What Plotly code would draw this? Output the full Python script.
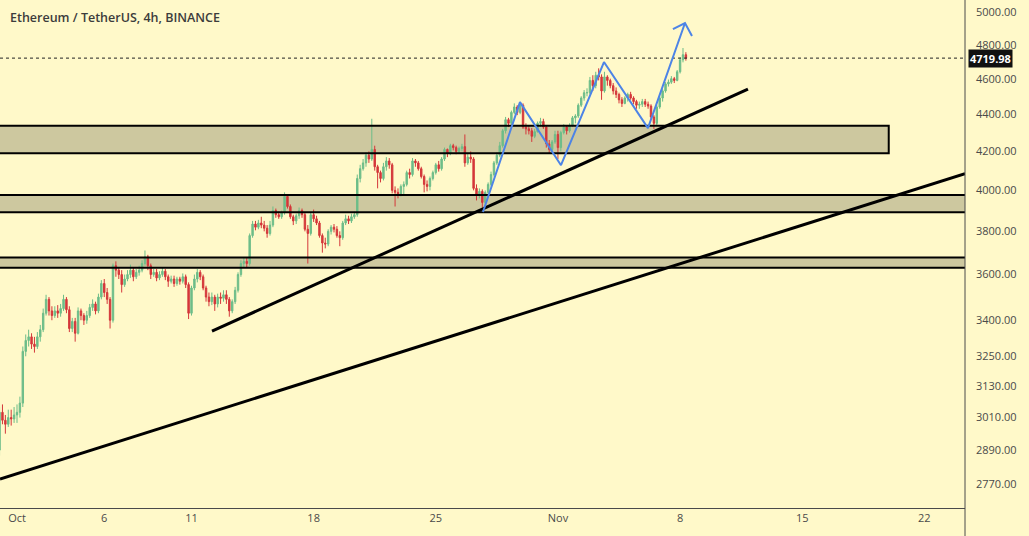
import math
import pandas as pd
import plotly.graph_objects as go

# ---------------- data (ETH/USDT, 4h candles) ----------------
first_open = 2890
closes = [
    3030, 3000, 2985, 3010, 3005, 3020,   # Sep 30
    3030, 3065, 3270, 3315, 3330, 3300,   # Oct 1
    3290, 3330, 3360, 3430, 3490, 3440,
    3420, 3440, 3430, 3450, 3490, 3445,
    3365, 3395, 3345, 3440, 3420, 3400,
    3420, 3455, 3470, 3440, 3500, 3560,
    3520, 3490, 3400, 3640, 3620, 3600,
    3555, 3580, 3600, 3620, 3590, 3610,
    3620, 3650, 3680, 3640, 3600, 3610,
    3585, 3600, 3615, 3590, 3570, 3580,
    3560, 3580, 3570, 3590, 3555, 3430,   # Oct 10
    3540, 3580, 3610, 3590, 3540, 3500,
    3480, 3500, 3470, 3500, 3495, 3510,
    3490, 3440, 3480, 3530, 3600, 3650,
    3660, 3650, 3780, 3835, 3820, 3840,
    3830, 3815, 3790, 3830, 3900, 3880,
    3870, 3890, 3970, 3920, 3870, 3850,
    3875, 3900, 3880, 3810, 3790, 3880,
    3860, 3840, 3780, 3745, 3740, 3800,
    3820, 3810, 3780, 3770, 3840, 3860,
    3850, 3870, 3880, 4060, 4110, 4140,   # Oct 20
    4180, 4160, 4210, 4120, 4090, 4060,
    4120, 4150, 4130, 4000, 3990, 3980,
    4020, 4030, 4090, 4080, 4150, 4140,
    4110, 4070, 4030, 4020, 4060, 4090,
    4130, 4110, 4160, 4210, 4190, 4230,
    4220, 4200, 4215, 4225, 4140, 4170,
    4160, 4010, 3980, 3995, 3940, 3990,
    4030, 4080, 4140, 4180, 4230, 4310,
    4370, 4350, 4410, 4440, 4410, 4450,
    4330, 4320, 4310, 4280, 4305, 4350,   # Oct 30
    4360, 4330, 4240, 4210, 4250, 4290,
    4220, 4300, 4330, 4310, 4340, 4380,   # Nov 1
    4390, 4450, 4490, 4520, 4520, 4590,
    4560, 4620, 4610, 4530, 4610, 4590,
    4560, 4530, 4510, 4480, 4460, 4490,
    4510, 4490, 4470, 4450, 4455, 4470,
    4455, 4445, 4385, 4350, 4440, 4490,
    4530, 4570, 4580, 4600, 4590, 4640,
    4710, 4740, 4719.98,                  # Nov 8
]
highs = [
    3050, 3060, 3020, 3040, 3040, 3050,
    3060, 3090, 3290, 3340, 3360, 3345,
    3330, 3350, 3380, 3450, 3510, 3500,
    3460, 3460, 3465, 3470, 3510, 3500,
    3460, 3410, 3410, 3455, 3450, 3430,
    3440, 3470, 3490, 3480, 3515, 3575,
    3580, 3540, 3500, 3650, 3660, 3630,
    3620, 3600, 3620, 3645, 3630, 3625,
    3640, 3665, 3710, 3690, 3650, 3625,
    3625, 3615, 3630, 3625, 3600, 3595,
    3595, 3590, 3590, 3605, 3600, 3565,
    3550, 3600, 3625, 3620, 3600, 3550,
    3520, 3520, 3510, 3515, 3520, 3530,
    3530, 3500, 3490, 3545, 3610, 3665,
    3680, 3675, 3790, 3850, 3850, 3855,
    3870, 3850, 3830, 3850, 3920, 3910,
    3895, 3900, 3990, 3980, 3930, 3880,
    3885, 3915, 3910, 3890, 3830, 3890,
    3905, 3875, 3850, 3790, 3770, 3810,
    3830, 3835, 3825, 3800, 3850, 3880,
    3875, 3885, 3895, 4080, 4130, 4160,
    4195, 4200, 4375, 4230, 4130, 4100,
    4140, 4170, 4165, 4140, 4020, 4010,
    4030, 4045, 4100, 4110, 4165, 4160,
    4150, 4120, 4080, 4050, 4070, 4100,
    4140, 4150, 4170, 4220, 4215, 4240,
    4240, 4230, 4225, 4240, 4290, 4190,
    4200, 4170, 4030, 4010, 4005, 4000,
    4040, 4095, 4150, 4195, 4250, 4320,
    4385, 4380, 4420, 4460, 4450, 4465,
    4460, 4350, 4340, 4325, 4320, 4360,
    4380, 4375, 4340, 4260, 4260, 4310,
    4310, 4310, 4345, 4340, 4350, 4390,
    4400, 4460, 4500, 4535, 4545, 4610,
    4620, 4640, 4660, 4625, 4640, 4620,
    4600, 4575, 4550, 4520, 4495, 4500,
    4520, 4525, 4500, 4480, 4470, 4485,
    4485, 4470, 4455, 4395, 4450, 4500,
    4540, 4580, 4595, 4615, 4610, 4650,
    4725, 4780, 4755,
]
lows = [
    2870, 2985, 2950, 2975, 2980, 2990,
    2990, 3010, 3050, 3250, 3290, 3280,
    3265, 3280, 3310, 3350, 3420, 3420,
    3400, 3410, 3410, 3415, 3440, 3430,
    3350, 3350, 3310, 3340, 3400, 3380,
    3385, 3410, 3440, 3425, 3430, 3490,
    3500, 3470, 3365, 3390, 3590, 3580,
    3520, 3545, 3570, 3585, 3570, 3580,
    3595, 3610, 3640, 3620, 3580, 3590,
    3570, 3575, 3590, 3575, 3545, 3560,
    3545, 3550, 3555, 3560, 3540, 3405,
    3420, 3530, 3565, 3575, 3530, 3480,
    3460, 3465, 3440, 3455, 3470, 3480,
    3470, 3415, 3430, 3470, 3520, 3590,
    3630, 3630, 3640, 3770, 3805, 3810,
    3815, 3800, 3770, 3780, 3820, 3865,
    3860, 3860, 3880, 3910, 3860, 3830,
    3835, 3860, 3865, 3800, 3650, 3780,
    3845, 3830, 3770, 3700, 3720, 3730,
    3785, 3795, 3770, 3730, 3760, 3830,
    3835, 3840, 3860, 3870, 4040, 4100,
    4120, 4140, 4150, 4100, 4010, 4040,
    4050, 4100, 4110, 3985, 3920, 3960,
    3970, 3980, 4020, 4060, 4070, 4120,
    4100, 4060, 3990, 3995, 4000, 4050,
    4080, 4095, 4100, 4150, 4170, 4180,
    4205, 4185, 4190, 4200, 4120, 4130,
    4140, 4000, 3950, 3960, 3915, 3930,
    3975, 4020, 4070, 4130, 4170, 4220,
    4295, 4330, 4340, 4400, 4395, 4400,
    4320, 4290, 4290, 4250, 4270, 4300,
    4330, 4320, 4220, 4190, 4200, 4240,
    4160, 4200, 4290, 4290, 4300, 4330,
    4350, 4380, 4440, 4475, 4500, 4510,
    4530, 4545, 4590, 4480, 4520, 4560,
    4545, 4510, 4490, 4460, 4440, 4455,
    4470, 4480, 4455, 4430, 4430, 4440,
    4440, 4430, 4370, 4320, 4340, 4430,
    4470, 4520, 4555, 4570, 4575, 4585,
    4630, 4695, 4705,
]
first_candle_time = "2021-09-30 00:00"
last_price = 4719.98

# axis ticks
price_ticks = [2770, 2890, 3010, 3130, 3250, 3400, 3600, 3800, 4000, 4200, 4400, 4600, 4800, 5000]
date_ticks = ["2021-10-01", "2021-10-06", "2021-10-11", "2021-10-18", "2021-10-25",
              "2021-11-01", "2021-11-08", "2021-11-15", "2021-11-22"]
date_labels = ["Oct", "6", "11", "18", "25", "Nov", "8", "15", "22"]
x_view = ["2021-09-30 00:37", "2021-11-24 07:53"]
y_view = [2688, 5076]

# drawings
zone_start = ["2021-09-20", "2021-09-20", "2021-09-20"]
zone_end = ["2021-11-19 23:00", "2021-12-10", "2021-12-10"]
zone_top = [4337, 3977, 3678]
zone_bottom = [4190, 3892, 3631]

trend_x = [["2021-10-12 04:12", "2021-11-11 21:22"], ["2021-09-30 00:37", "2021-11-24 07:53"]]
trend_y = [[3354, 4540], [2787, 4085]]

wave_x = ["2021-10-27 16:55", "2021-10-29 19:48", "2021-11-01 04:12",
          "2021-11-03 15:20", "2021-11-06 03:50", "2021-11-08 06:45"]
wave_y = [3893, 4467, 4128, 4697, 4324, 4932]
arrow_x = ["2021-11-07 14:10", "2021-11-08 06:45", "2021-11-08 16:22"]
arrow_y = [4894, 4932, 4852]

title_text = "Ethereum / TetherUS, 4h, BINANCE"

# ---------------- figure ----------------
times = pd.date_range(first_candle_time, periods=len(closes), freq="4h")
opens = [first_open] + closes[:-1]

BG = "#fff9c9"
TAN = "#cdc89f"
BLUE = "#4d84e6"
GREEN = "#6dbd89"
RED = "#d4373a"
TXT = "#4a4a4a"

fig = go.Figure()

shapes = []
for xs, xe, yt, yb in zip(zone_start, zone_end, zone_top, zone_bottom):
    # tan fill below the candles
    shapes.append(dict(type="rect", xref="x", yref="y", x0=xs, x1=xe, y0=yb, y1=yt,
                       fillcolor=TAN, line=dict(width=0), layer="below"))
    # black border above
    fig.add_trace(go.Scatter(
        x=[xs, xe, xe, xs, xs], y=[yb, yb, yt, yt, yb],
        mode="lines", line=dict(color="#000000", width=2), hoverinfo="skip"))

fig.add_trace(go.Candlestick(
    x=times, open=opens, high=highs, low=lows, close=closes,
    increasing=dict(line=dict(color=GREEN, width=1), fillcolor=GREEN),
    decreasing=dict(line=dict(color=RED, width=1), fillcolor=RED),
    whiskerwidth=0))

fig.add_trace(go.Scatter(x=x_view, y=[last_price, last_price], mode="lines",
                         line=dict(color="#222222", width=1, dash="dot"), hoverinfo="skip"))

for tx, ty in zip(trend_x, trend_y):
    fig.add_trace(go.Scatter(x=tx, y=ty, mode="lines",
                             line=dict(color="#000000", width=3), hoverinfo="skip"))

fig.add_trace(go.Scatter(x=wave_x, y=wave_y, mode="lines",
                         line=dict(color=BLUE, width=2), hoverinfo="skip"))
fig.add_trace(go.Scatter(x=arrow_x, y=arrow_y, mode="lines",
                         line=dict(color=BLUE, width=2), hoverinfo="skip"))

plot_h = 536 - 28
shapes.append(dict(type="line", xref="paper", yref="paper", x0=1, x1=1,
                   y0=-28 / plot_h, y1=1, line=dict(color="#4a4a4a", width=1)))

fig.update_layout(
    width=1029, height=536,
    margin=dict(l=0, r=64, t=0, b=28),
    paper_bgcolor=BG, plot_bgcolor=BG,
    showlegend=False,
    font=dict(family="Open Sans, DejaVu Sans, sans-serif", color=TXT, size=11),
    xaxis=dict(
        type="date", range=x_view, rangeslider=dict(visible=False),
        showgrid=False, zeroline=False,
        showline=True, linecolor="#4a4a4a", linewidth=1,
        tickmode="array", tickvals=date_ticks, ticktext=date_labels,
        ticks="", tickfont=dict(size=11, color=TXT),
    ),
    yaxis=dict(
        type="log", side="right",
        range=[math.log10(y_view[0]), math.log10(y_view[1])],
        showgrid=False, zeroline=False, showline=False,
        tickmode="array", tickvals=price_ticks,
        ticktext=[f"{v:.2f}" for v in price_ticks],
        ticks="", ticklabelstandoff=10, tickfont=dict(size=11, color=TXT),
    ),
    shapes=shapes,
    annotations=[
        dict(text=title_text, xref="paper", yref="paper", x=8 / 965, y=1 - 17 / plot_h,
             xanchor="left", yanchor="middle", showarrow=False,
             font=dict(size=12.5, color="#3c3c3c", family="Open Sans, sans-serif", weight=600)),
        dict(text=f"{last_price:.2f}", xref="paper", yref="y", x=1, y=math.log10(last_price),
             xanchor="left", yanchor="middle", xshift=3, showarrow=False,
             bgcolor="#111111", borderpad=1,
             font=dict(size=11, color="#ffffff", family="Open Sans, sans-serif", weight=700)),
    ],
)

fig.write_html("out.html")
